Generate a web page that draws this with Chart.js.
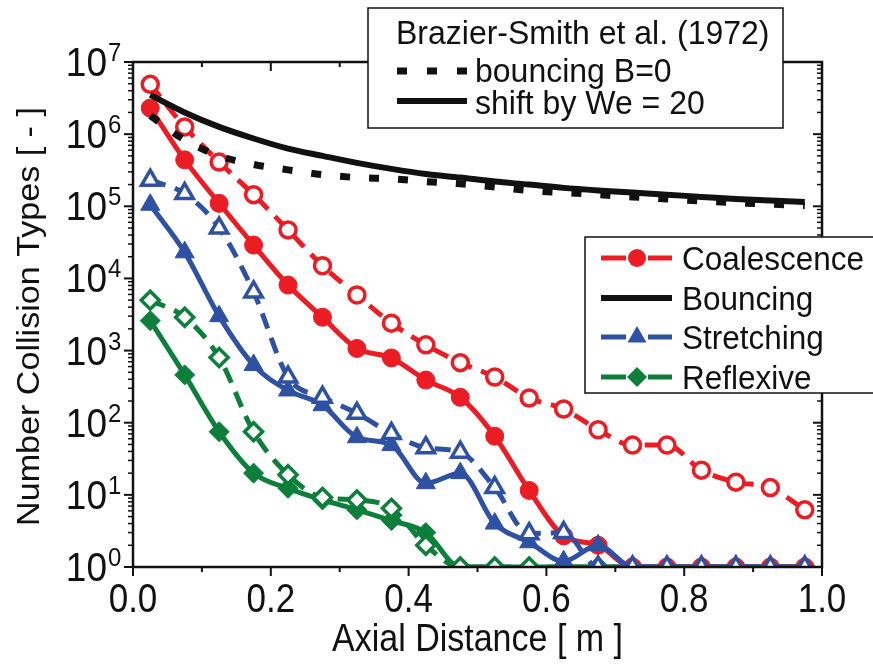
<!DOCTYPE html>
<html>
<head>
<meta charset="utf-8">
<script src="https://cdn.jsdelivr.net/npm/chart.js@4.4.1/dist/chart.umd.min.js"></script>
<style>
  html, body { margin: 0; padding: 0; background: #fff; }
</style>
</head>
<body>
<canvas id="collisionChart" width="873" height="667"></canvas>
<script>
// axial positions of the bins [m]
const distance = [0.025, 0.075, 0.125, 0.175, 0.225, 0.275, 0.325, 0.375, 0.425, 0.475,
                  0.525, 0.575, 0.625, 0.675, 0.725, 0.775, 0.825, 0.875, 0.925, 0.975];

// filled markers / solid lines
const coalescenceSolid = [2.3e6, 4.4e5, 1.1e5, 2.9e4, 8.1e3, 2.9e3, 1.07e3, 790, 390, 225,
                          65, 11.5, 2.7, 2.0, 1, 1, 1, 1, 1, 1];
const stretchingSolid = [1.05e5, 2.3e4, 3.0e3, 630, 280, 175, 63, 49, 14.5, 20,
                         4.0, 2.2, 1.2, 2.0, 1, 1, 1, 1, 1, 1];
const reflexiveSolid = [2.6e3, 460, 75, 20, 12.3, 8.5, 6.2, 4.4, 3.0, 1,
                        1, 1, 1, 1, 1, 1, 1, 1, 1, 1];

// open markers / dashed lines
const coalescenceOpen = [4.9e6, 1.26e6, 4.1e5, 1.45e5, 4.7e4, 1.5e4, 5.9e3, 2.4e3, 1.2e3, 680,
                         430, 220, 155, 80, 49, 49, 22, 15, 12.6, 6.2];
const stretchingOpen = [2.3e5, 1.5e5, 5.0e4, 6.5e3, 430, 225, 135, 71, 45, 39,
                        12.6, 2.9, 3.0, 1, 1, 1, 1, 1, 1, 1];
const reflexiveOpen = [5.0e3, 2.9e3, 800, 75, 19, 9.2, 8.5, 6.5, 2.0, 1,
                       1, 1, 1, 1, 1, 1, 1, 1, 1, 1];

// Brazier-Smith et al. (1972) bouncing
const bouncingShift = [3.5e6, 2.0e6, 1.26e6, 8.7e5, 6.3e5, 5.0e5, 4.0e5, 3.3e5, 2.8e5, 2.5e5,
                       2.2e5, 2.0e5, 1.8e5, 1.66e5, 1.55e5, 1.45e5, 1.35e5, 1.26e5, 1.2e5, 1.15e5];
const bouncingB0 = [1.8e6, 8.3e5, 5.0e5, 3.8e5, 3.2e5, 2.75e5, 2.5e5, 2.4e5, 2.2e5, 2.05e5,
                    1.85e5, 1.65e5, 1.55e5, 1.45e5, 1.35e5, 1.26e5, 1.18e5, 1.12e5, 1.07e5, 1.02e5];

const xTicks = [0, 0.2, 0.4, 0.6, 0.8, 1.0];
const yDecades = [0, 1, 2, 3, 4, 5, 6, 7];

const RED = '#ec1c24';
const BLUE = '#2f51a3';
const GREEN = '#0c7f3b';
const BLACK = '#111111';
const FONT = '"Liberation Sans", Arial, sans-serif';

function pts(ys) {
  return distance.map((x, i) => ({ x: x, y: ys[i] }));
}

function markerSet(label, ys, color, shape, open, order) {
  const sizes = { circle: open ? 8 : 9, triangle: open ? 10 : 11, rectRot: open ? 9 : 10 };
  return {
    label: label,
    data: pts(ys),
    borderColor: color,
    borderWidth: 5,
    borderDash: open ? [16, 10] : [],
    pointStyle: shape,
    pointRadius: sizes[shape],
    pointBackgroundColor: open ? '#ffffff' : color,
    pointBorderColor: color,
    pointBorderWidth: open ? 3.5 : 1,
    cubicInterpolationMode: 'monotone',
    clip: 0,
    order: order,
  };
}

const datasets = [
  {
    label: 'shift by We = 20', data: pts(bouncingShift), borderColor: BLACK, borderWidth: 6,
    pointRadius: 0, cubicInterpolationMode: 'monotone', clip: 0, order: 0,
  },
  {
    label: 'bouncing B=0', data: pts(bouncingB0), borderColor: BLACK, borderWidth: 7,
    borderDash: [10, 19], pointRadius: 0, cubicInterpolationMode: 'monotone', clip: 0, order: 0,
  },
  markerSet('Stretching (open)', stretchingOpen, BLUE, 'triangle', true, 1),
  markerSet('Stretching', stretchingSolid, BLUE, 'triangle', false, 2),
  markerSet('Coalescence (open)', coalescenceOpen, RED, 'circle', true, 3),
  markerSet('Coalescence', coalescenceSolid, RED, 'circle', false, 4),
  markerSet('Reflexive (open)', reflexiveOpen, GREEN, 'rectRot', true, 5),
  markerSet('Reflexive', reflexiveSolid, GREEN, 'rectRot', false, 6),
];

function line(ctx, x1, y1, x2, y2) {
  ctx.beginPath();
  ctx.moveTo(x1, y1);
  ctx.lineTo(x2, y2);
  ctx.stroke();
}

// text drawn a bit taller than wide, like the original figure
function text(ctx, str, x, y, size, align, sy) {
  ctx.save();
  ctx.translate(x, y);
  ctx.scale(1, sy || 1);
  ctx.font = size + 'px ' + FONT;
  ctx.textAlign = align;
  ctx.fillText(str, 0, 0);
  ctx.restore();
}

function marker(ctx, shape, x, y, color) {
  ctx.fillStyle = color;
  ctx.beginPath();
  if (shape === 'circle') {
    ctx.arc(x, y, 9, 0, Math.PI * 2);
  } else if (shape === 'triangle') {
    ctx.moveTo(x, y - 11);
    ctx.lineTo(x + 9.5, y + 5.5);
    ctx.lineTo(x - 9.5, y + 5.5);
    ctx.closePath();
  } else {
    ctx.moveTo(x - 10, y);
    ctx.lineTo(x, y - 10);
    ctx.lineTo(x + 10, y);
    ctx.lineTo(x, y + 10);
    ctx.closePath();
  }
  ctx.fill();
}

// axes, tick labels and both legend boxes
const framePlugin = {
  id: 'frame',
  afterDraw(chart) {
    const { ctx, chartArea: a, scales: { x, y } } = chart;
    ctx.save();
    ctx.strokeStyle = BLACK;
    ctx.fillStyle = BLACK;
    ctx.lineWidth = 2.5;
    ctx.lineCap = 'butt';
    ctx.strokeRect(a.left, a.top, a.right - a.left, a.bottom - a.top);

    ctx.lineWidth = 2;
    for (let i = 0; i <= 10; i++) {
      const px = x.getPixelForValue(i / 10);
      const len = i % 2 === 0 ? 9 : 5;
      line(ctx, px, a.bottom, px, a.bottom + len);
      line(ctx, px, a.top, px, a.top + len);
    }
    yDecades.forEach(e => {
      const py = y.getPixelForValue(Math.pow(10, e));
      ctx.lineWidth = 2;
      line(ctx, a.left - 9, py, a.left, py);
      line(ctx, a.right - 9, py, a.right, py);
      if (e < 7) {
        ctx.lineWidth = 1.5;
        for (let k = 2; k <= 9; k++) {
          const pm = y.getPixelForValue(k * Math.pow(10, e));
          line(ctx, a.left - 5, pm, a.left, pm);
          line(ctx, a.right - 5, pm, a.right, pm);
        }
      }
    });

    // tick labels
    ctx.textBaseline = 'alphabetic';
    xTicks.forEach(v => {
      text(ctx, v.toFixed(1), x.getPixelForValue(v), a.bottom + 45, 35, 'center', 1.15);
    });
    yDecades.forEach(e => {
      const py = y.getPixelForValue(Math.pow(10, e));
      text(ctx, '10', 107, py + 14, 37, 'right', 1.1);
      text(ctx, String(e), 108, py - 1, 24, 'left', 1.1);
    });

    // axis titles
    text(ctx, 'Axial Distance [ m ]', (a.left + a.right) / 2, 651, 34, 'center', 1.12);
    ctx.save();
    ctx.translate(39, (a.top + a.bottom) / 2 + 2);
    ctx.rotate(-Math.PI / 2);
    ctx.scale(1.1, 1);
    ctx.font = '31px ' + FONT;
    ctx.textAlign = 'center';
    ctx.fillText('Number Collision Types [ - ]', 0, 0);
    ctx.restore();

    // Brazier-Smith legend
    ctx.fillStyle = '#ffffff';
    ctx.fillRect(368, 8, 415, 120);
    ctx.strokeStyle = BLACK;
    ctx.lineWidth = 1.5;
    ctx.strokeRect(368, 8, 415, 120);
    ctx.fillStyle = BLACK;
    text(ctx, 'Brazier-Smith et al. (1972)', 396, 44, 32, 'left', 1.05);
    ctx.lineWidth = 7;
    ctx.setLineDash([10, 20]);
    line(ctx, 397, 71, 468, 71);
    ctx.setLineDash([]);
    ctx.lineWidth = 6;
    line(ctx, 397, 101, 467, 101);
    text(ctx, 'bouncing B=0', 475, 82, 32, 'left', 1.05);
    text(ctx, 'shift by We = 20', 475, 114, 32, 'left', 1.05);

    // collision type legend
    ctx.fillStyle = '#ffffff';
    ctx.fillRect(585, 237, 300, 156);
    ctx.lineWidth = 1.5;
    ctx.strokeRect(585, 237, 300, 156);
    const entries = [
      ['Coalescence', RED, 'circle', 258],
      ['Bouncing', BLACK, null, 298],
      ['Stretching', BLUE, 'triangle', 337],
      ['Reflexive', GREEN, 'rectRot', 377],
    ];
    entries.forEach(([txt, col, shape, yy]) => {
      ctx.strokeStyle = col;
      ctx.lineWidth = shape ? 5 : 6;
      if (shape) {
        line(ctx, 601, yy, 626, yy);
        line(ctx, 648, yy, 672, yy);
        marker(ctx, shape, 637, yy, col);
      } else {
        line(ctx, 601, yy, 672, yy);
      }
      ctx.fillStyle = BLACK;
      text(ctx, txt, 682, yy + 12, 31.5, 'left', 1.05);
    });
    ctx.restore();
  }
};

const ctx = document.getElementById('collisionChart').getContext('2d');
const collisionChart = new Chart(ctx, {
  type: 'line',
  data: { datasets: datasets },
  options: {
    responsive: false,
    animation: false,
    devicePixelRatio: 1,
    layout: { padding: { left: 133, right: 51, top: 62, bottom: 100 } },
    plugins: { legend: { display: false }, tooltip: { enabled: false } },
    scales: {
      x: { type: 'linear', min: 0, max: 1, display: false },
      y: { type: 'logarithmic', min: 1, max: 1e7, display: false },
    },
  },
  plugins: [framePlugin],
});
</script>
</body>
</html>
